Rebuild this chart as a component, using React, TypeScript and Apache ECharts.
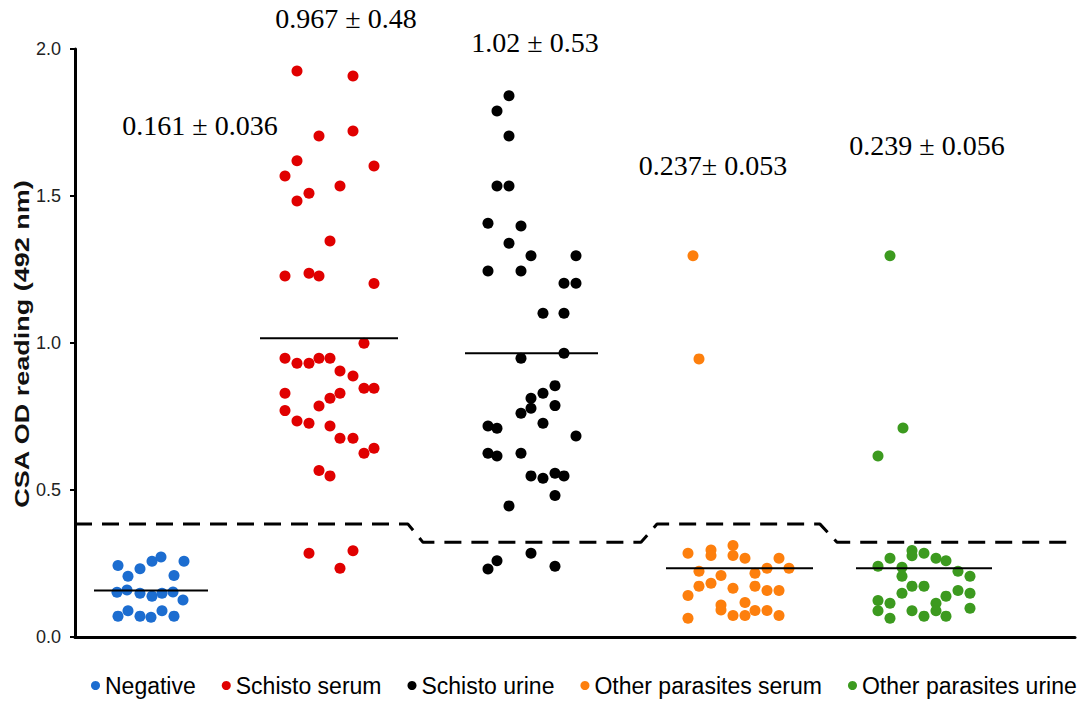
import React, { useEffect, useRef } from "react";
import * as echarts from "echarts";

// Jitter positions (x, arbitrary units) and OD readings (y)
const negX = [0.43, 0.53, 0.65, 0.77, 0.86, 1.09, 0.99, 0.42, 0.52, 0.65, 0.77, 0.87, 0.98, 1.08, 0.43, 0.53, 0.65, 0.76, 0.87, 0.99];
const negY = [0.243, 0.207, 0.232, 0.258, 0.272, 0.258, 0.209, 0.152, 0.16, 0.149, 0.139, 0.149, 0.153, 0.126, 0.071, 0.089, 0.071, 0.067, 0.089, 0.071];

const serX = [2.22, 2.78, 2.44, 2.78, 2.22, 2.99, 2.10, 2.65, 2.34, 2.22, 2.55, 2.10, 2.34, 2.44, 2.99, 2.89, 2.10, 2.22, 2.34, 2.44, 2.55, 2.65, 2.78, 2.89, 2.99, 2.10, 2.65, 2.55, 2.44, 2.10, 2.22, 2.34, 2.55, 2.65, 2.78, 2.89, 2.99, 2.44, 2.55, 2.34, 2.78, 2.65];
const serY = [1.925, 1.908, 1.704, 1.721, 1.62, 1.602, 1.568, 1.534, 1.509, 1.483, 1.347, 1.228, 1.237, 1.228, 1.202, 0.999, 0.948, 0.931, 0.931, 0.948, 0.948, 0.905, 0.888, 0.846, 0.846, 0.829, 0.829, 0.812, 0.786, 0.77, 0.735, 0.727, 0.718, 0.676, 0.676, 0.625, 0.642, 0.566, 0.548, 0.285, 0.293, 0.234];

const urnX = [4.34, 4.22, 4.34, 4.22, 4.34, 4.13, 4.46, 4.34, 4.56, 5.01, 4.13, 4.46, 4.89, 5.01, 4.68, 4.89, 4.89, 4.46, 4.80, 4.68, 4.56, 4.56, 4.80, 4.46, 4.68, 4.13, 4.22, 5.01, 4.13, 4.22, 4.46, 4.56, 4.68, 4.80, 4.89, 4.80, 4.34, 4.13, 4.22, 4.56, 4.80];
const urnY = [1.841, 1.789, 1.704, 1.534, 1.534, 1.407, 1.398, 1.339, 1.297, 1.297, 1.245, 1.245, 1.203, 1.203, 1.101, 1.101, 0.965, 0.948, 0.855, 0.829, 0.812, 0.778, 0.787, 0.761, 0.727, 0.718, 0.71, 0.684, 0.625, 0.616, 0.625, 0.548, 0.54, 0.557, 0.548, 0.481, 0.446, 0.231, 0.259, 0.285, 0.241];

const opsX = [6.13, 6.36, 6.36, 6.58, 6.58, 6.70, 7.04, 6.24, 6.46, 6.80, 6.92, 7.14, 6.24, 6.36, 6.58, 6.80, 6.92, 7.04, 6.13, 6.46, 6.46, 6.70, 6.13, 6.58, 6.70, 6.80, 6.92, 7.04, 6.18, 6.24];
const opsY = [0.285, 0.296, 0.277, 0.311, 0.277, 0.268, 0.268, 0.224, 0.209, 0.217, 0.234, 0.234, 0.173, 0.183, 0.166, 0.173, 0.158, 0.158, 0.141, 0.109, 0.092, 0.117, 0.064, 0.073, 0.073, 0.09, 0.09, 0.073, 1.297, 0.946];

const opuX = [8.03, 8.15, 8.37, 8.37, 8.49, 8.61, 8.71, 8.27, 8.27, 8.83, 8.95, 8.37, 8.49, 8.27, 8.71, 8.83, 8.95, 8.03, 8.15, 8.61, 8.03, 8.37, 8.61, 8.49, 8.71, 8.15, 8.95, 8.15, 8.28, 8.03];
const opuY = [0.241, 0.268, 0.294, 0.276, 0.285, 0.268, 0.259, 0.237, 0.207, 0.224, 0.207, 0.173, 0.173, 0.149, 0.139, 0.158, 0.149, 0.124, 0.115, 0.115, 0.089, 0.089, 0.089, 0.071, 0.071, 0.064, 0.098, 1.297, 0.711, 0.616];

// Mean lines: [xStart, xEnd, mean]
const meanNeg = [0.19, 1.33, 0.158];
const meanSer = [1.85, 3.23, 1.016];
const meanUrn = [3.9, 5.23, 0.965];
const meanOps = [5.91, 7.38, 0.234];
const meanOpu = [7.81, 9.17, 0.234];

// Cut-off (dashed) line
const cutX = [0, 3.33, 3.48, 5.66, 5.82, 7.45, 7.62, 10];
const cutY = [0.384, 0.384, 0.322, 0.322, 0.384, 0.384, 0.322, 0.322];

const groupNames = ["Negative", "Schisto serum", "Schisto urine", "Other parasites serum", "Other parasites urine"];
const groupColors = ["#1c6dd0", "#e00000", "#000000", "#fd7f0d", "#3c9a1f"];
const statLabels = ["0.161 ± 0.036", "0.967 ± 0.48", "1.02 ± 0.53", "0.237± 0.053", "0.239 ± 0.056"];
const yTicks = [0, 0.5, 1.0, 1.5, 2.0];

const zip = (xs: number[], ys: number[]) => xs.map((x, i) => [x, ys[i]]);

export default function App() {
  const ref = useRef<HTMLDivElement>(null);
  useEffect(() => {
    if (!ref.current) return;
    const chart = echarts.init(ref.current, null, { renderer: "svg" });
    const pts = [zip(negX, negY), zip(serX, serY), zip(urnX, urnY), zip(opsX, opsY), zip(opuX, opuY)];
    const means = [meanNeg, meanSer, meanUrn, meanOps, meanOpu];
    const scatter = pts.map((d, i) => ({
      name: groupNames[i],
      type: "scatter",
      data: d,
      symbol: "circle",
      symbolSize: 11,
      itemStyle: { color: groupColors[i], opacity: 1 },
      z: 3,
    }));
    const meanSeries = means.map((m) => ({
      type: "line",
      data: [[m[0], m[2]], [m[1], m[2]]],
      symbol: "none",
      lineStyle: { color: "#000", width: 2 },
      silent: true,
      z: 4,
    }));
    const labelPos = [
      [200, 125],
      [346, 18],
      [535, 42],
      [713, 165],
      [927, 145],
    ];
    chart.setOption({
      animation: false,
      grid: { left: 75, right: 3, top: 49, bottom: 67 },
      legend: {
        data: groupNames,
        bottom: 7,
        left: 91,
        width: 987,
        padding: 0,
        icon: "circle",
        itemWidth: 9,
        itemHeight: 9,
        itemGap: 26,
        textStyle: { fontFamily: "Liberation Sans, Arial", fontSize: 23, color: "#000" },
      },
      xAxis: {
        type: "value",
        min: 0,
        max: 10,
        axisLine: { show: true, onZero: false, lineStyle: { color: "#000", width: 3 } },
        axisTick: { show: false },
        axisLabel: { show: false },
        splitLine: { show: false },
      },
      yAxis: {
        type: "value",
        min: 0,
        max: 2,
        interval: 0.5,
        axisLine: { show: true, lineStyle: { color: "#000", width: 3 } },
        axisTick: { show: true, length: 5, lineStyle: { color: "#000", width: 2 } },
        axisLabel: {
          fontFamily: "Liberation Sans, Arial",
          fontSize: 18,
          color: "#222",
          margin: 14,
          formatter: (v: number) => (yTicks.includes(v) ? v.toFixed(1) : ""),
        },
        splitLine: { show: false },
      },
      graphic: [
        {
          type: "text",
          x: 22,
          y: 344,
          rotation: Math.PI / 2,
          scaleX: 1.35,
          style: {
            text: "CSA OD reading (492 nm)",
            fontFamily: "Liberation Sans, Arial",
            fontWeight: "bold",
            fontSize: 20,
            fill: "#111",
            align: "center",
            verticalAlign: "middle",
          },
          z: 10,
        },
        ...labelPos.map((p, i) => ({
          type: "text",
          x: p[0],
          y: p[1],
          style: {
            text: statLabels[i],
            fontFamily: "Liberation Serif, Times New Roman",
            fontSize: 28,
            fill: "#000",
            align: "center",
            verticalAlign: "middle",
          },
        })),
      ],
      series: [
        ...scatter,
        ...meanSeries,
        {
          type: "line",
          data: zip(cutX, cutY),
          symbol: "none",
          lineStyle: { color: "#000", width: 3, type: [17, 10] },
          silent: true,
          z: 2,
        },
      ],
    });
    return () => chart.dispose();
  }, []);
  return (
    <div
      ref={ref}
      style={{ position: "fixed", left: 0, top: 0, width: 1078, height: 704, background: "#fff" }}
    />
  );
}
